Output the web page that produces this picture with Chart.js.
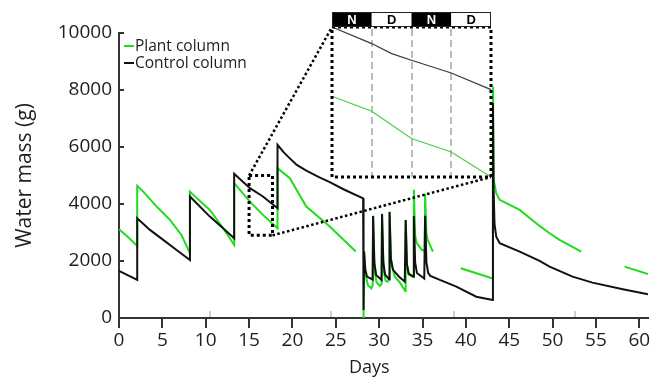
<!DOCTYPE html>
<html><head><meta charset="utf-8">
<script src="https://cdn.jsdelivr.net/npm/chart.js@4.4.0/dist/chart.umd.min.js"></script>
<style>
html,body{margin:0;padding:0;background:#fff;}
#wrap{position:relative;width:654px;height:381px;overflow:hidden;}
#main{position:absolute;left:0;top:0;}
#inset{position:absolute;left:326px;top:6px;}
</style></head><body>
<div id="wrap"><canvas id="main" width="654" height="381"></canvas><canvas id="inset" width="170" height="178"></canvas></div>
<script>
// ---- data (days, grams) ----
const plantDays = [0,1.0,2.1,2.1,2.8,4.34,5.88,7.2,8.18,
  8.18,8.56,10.48,12.02,13.28,
  13.28,15.1,16.6,18.28,
  18.28,19.7,21.6,24.3,27.3,
  27.5,
  28.2,28.26,28.4,28.7,29.1,29.25,
  29.3,29.45,29.7,30.07,30.28,
  30.33,30.5,30.75,31.0,31.15,
  31.2,31.35,31.8,32.4,33.0,
  33.06,33.2,33.4,33.95,
  34.0,34.15,34.3,34.9,35.25,
  35.3,35.45,35.6,36.2,
  37.0,
  39.4,43.0,43.1,43.12,43.2,43.5,43.9,46.2,48.5,49.65,50.8,53.3,
  55.0,
  58.3,61.0];
const plantMass = [3115,2850,2529,4636,4436,3910,3442,2915,2272,
  4436,4320,3793,3150,2564,
  4730,4085,3618,3150,
  5258,4907,3910,3208,2330,
  null,
  0,2330,1570,1150,1043,1150,
  3583,1700,1250,1124,1200,
  3653,1700,1300,1276,1350,
  3723,1950,1452,1241,950,
  3442,1850,1520,1430,
  4496,2900,2650,2400,2350,
  4355,2950,2740,2330,
  null,
  1745,1394,1394,8124,4850,4380,4145,3793,3231,2975,2740,2330,
  null,
  1803,1545];
const controlDays = [0,2.1,2.1,3.57,5.1,6.64,8.18,
  8.18,10.48,12.0,13.28,
  13.28,15.1,16.6,18.28,
  18.28,19.0,19.7,20.5,21.6,23.0,24.3,26.0,28.15,
  28.2,28.26,28.4,28.6,29.25,
  29.3,29.45,29.65,30.28,
  30.33,30.48,30.68,31.15,
  31.2,31.35,31.6,32.3,32.95,
  33.06,33.2,33.4,33.95,
  34.0,34.15,34.35,35.2,
  35.3,35.45,35.65,35.9,
  37.0,38.9,41.2,43.1,
  43.12,43.2,43.3,43.5,43.9,46.2,48.5,49.65,52.3,54.6,58.1,61.0];
const controlMass = [1651,1335,3502,3091,2740,2388,2037,
  4262,3558,3150,2800,
  5058,4555,4262,3853,
  6077,5810,5600,5370,5170,4950,4770,4500,4200,
  280,2330,1700,1450,1350,
  3583,1930,1510,1335,
  3653,1950,1520,1360,
  3723,2100,1690,1450,1276,
  3442,1900,1560,1452,
  3583,1950,1580,1382,
  3583,1950,1580,1480,
  1335,1100,748,632,
  7540,4500,3300,2856,2623,2330,2002,1803,1452,1241,1007,831];
const seriesLabels = ['Plant column','Control column'];
const greyTickDays = [10.5,24.5,38.6,52.6];
const zoomDays = [15,17.7];
const zoomMass = [2900,5000];
// inset (hours within the zoomed window)
const insetPhaseHours = [0,12,24,36,48];
const insetPhaseLabels = ['N','D','N','D'];
const insetControlHours = [0,12,18,24,36,48];
const insetControlMass = [5000,4768,4628,4534,4356,4124];
const insetPlantHours = [0,12,24,36,48];
const insetPlantMass = [4030,3820,3438,3250,2900];

const GREEN = '#1fdc1f';
const BLACK = '#111111';
const TXT = '#1e1e1e';
const FONT = '"Open Sans", sans-serif';
Chart.defaults.font.family = FONT;

const pts = (xs, ys) => xs.map((v,i)=>({x:v, y:ys[i]}));

const INSET_POS = {left:326, top:6, w:170, h:178, pad:{left:6, top:21, right:5, bottom:7}};

const mainDecor = {
  id:'mainDecor',
  afterDraw(chart){
    const {ctx, chartArea:a, scales:{x, y}} = chart;
    ctx.save();
    ctx.strokeStyle='#333'; ctx.lineWidth=2; ctx.setLineDash([]);
    x.ticks.forEach(t=>{const px=Math.round(x.getPixelForValue(t.value)); ctx.beginPath(); ctx.moveTo(px,a.bottom); ctx.lineTo(px,a.bottom+10); ctx.stroke();});
    y.ticks.forEach(t=>{const py=Math.round(y.getPixelForValue(t.value)); ctx.beginPath(); ctx.moveTo(a.left,py); ctx.lineTo(a.left+5,py); ctx.stroke();});
    ctx.strokeStyle='#bdbdbd'; ctx.lineWidth=1.5;
    greyTickDays.forEach(d=>{const px=Math.round(x.getPixelForValue(d)); ctx.beginPath(); ctx.moveTo(px,a.bottom-1); ctx.lineTo(px,a.bottom-7); ctx.stroke();});
    // zoom box
    const bx0=x.getPixelForValue(zoomDays[0]), bx1=x.getPixelForValue(zoomDays[1]);
    const by0=y.getPixelForValue(zoomMass[1]), by1=y.getPixelForValue(zoomMass[0]);
    ctx.strokeStyle='#000'; ctx.lineWidth=3; ctx.setLineDash([3,3]);
    ctx.strokeRect(bx0,by0,bx1-bx0,by1-by0);
    // connectors to inset
    const iL = INSET_POS.left+INSET_POS.pad.left, iT = INSET_POS.top+INSET_POS.pad.top;
    const iR = INSET_POS.left+INSET_POS.w-INSET_POS.pad.right, iB = INSET_POS.top+INSET_POS.h-INSET_POS.pad.bottom;
    ctx.lineWidth=2.5; ctx.setLineDash([2.5,2.5]);
    ctx.beginPath(); ctx.moveTo(bx0,by0); ctx.lineTo(iL,iT); ctx.stroke();
    ctx.beginPath(); ctx.moveTo(bx1,by1); ctx.lineTo(iR,iB); ctx.stroke();
    ctx.setLineDash([]);
    // legend
    ctx.font = '15.5px '+FONT; ctx.textBaseline='middle'; ctx.textAlign='left';
    chart.data.datasets.forEach((ds)=>{
      const row = seriesLabels.indexOf(ds.label);
      const ly = a.top + 13 + row*17;
      ctx.strokeStyle = ds.borderColor; ctx.lineWidth=2;
      ctx.beginPath(); ctx.moveTo(a.left+5, ly); ctx.lineTo(a.left+15, ly); ctx.stroke();
      ctx.fillStyle = TXT; ctx.fillText(ds.label, a.left+16, ly+1);
    });
    // x title
    ctx.font = '18px '+FONT; ctx.textAlign='center'; ctx.textBaseline='alphabetic'; ctx.fillStyle=TXT;
    ctx.fillText('Days', a.left + (a.right-a.left)*0.473, 373);
    ctx.restore();
  }
};

new Chart(document.getElementById('main'), {
  type:'line',
  data:{datasets:[
    {label:seriesLabels[1], data:pts(controlDays, controlMass), borderColor:BLACK, borderWidth:2, pointRadius:0, tension:0, order:0, spanGaps:false},
    {label:seriesLabels[0], data:pts(plantDays, plantMass), borderColor:GREEN, borderWidth:2, pointRadius:0, tension:0, order:1, spanGaps:false}
  ]},
  options:{
    responsive:false, animation:false, events:[],
    layout:{padding:{top:33,right:6,left:0,bottom:0}},
    plugins:{legend:{display:false}, tooltip:{enabled:false}},
    scales:{
      x:{type:'linear', min:0, max:61,
        grid:{display:false, drawTicks:false}, border:{display:true,color:'#333',width:2},
        ticks:{stepSize:5, includeBounds:false, color:TXT, font:{size:19}, padding:11, maxRotation:0, callback:v=>String(v)},
        afterFit(s){s.height=63; s.paddingLeft=0; s.paddingRight=0;}
      },
      y:{type:'linear', min:0, max:10000,
        grid:{display:false, drawTicks:false}, border:{display:true,color:'#333',width:2},
        ticks:{stepSize:2000, color:TXT, font:{size:19}, padding:7, callback:v=>String(v)},
        title:{display:true, text:'Water mass (g)', color:TXT, font:{size:21}, padding:{top:12,bottom:0}},
        afterFit(s){s.width=119; s.paddingTop=0; s.paddingBottom=0;}
      }
    }
  },
  plugins:[mainDecor]
});

const insetDecor = {
  id:'insetDecor',
  beforeDatasetsDraw(chart){
    const {ctx, chartArea:a, scales:{x}} = chart;
    ctx.save();
    ctx.fillStyle='#fff'; ctx.fillRect(a.left,a.top,a.right-a.left,a.bottom-a.top);
    ctx.strokeStyle='#a8a8a8'; ctx.lineWidth=1.5; ctx.setLineDash([7,4]);
    insetPhaseHours.slice(1,-1).forEach(h=>{const px=Math.round(x.getPixelForValue(h)); ctx.beginPath(); ctx.moveTo(px,a.top+2); ctx.lineTo(px,a.bottom); ctx.stroke();});
    ctx.restore();
  },
  afterDraw(chart){
    const {ctx, chartArea:a, scales:{x}} = chart;
    ctx.save();
    ctx.strokeStyle='#000'; ctx.lineWidth=3; ctx.setLineDash([3,3]);
    ctx.strokeRect(a.left,a.top,a.right-a.left,a.bottom-a.top);
    ctx.setLineDash([]);
    const hTop = a.top-15, hH = 14;
    ctx.font = 'bold 13px "Liberation Sans", Arial, sans-serif'; ctx.textAlign='center'; ctx.textBaseline='middle';
    insetPhaseLabels.forEach((lab,i)=>{
      const x0=x.getPixelForValue(insetPhaseHours[i]), x1=x.getPixelForValue(insetPhaseHours[i+1]);
      const night = lab==='N';
      ctx.fillStyle = night ? '#000' : '#fff';
      ctx.fillRect(x0,hTop,x1-x0,hH);
      ctx.fillStyle = night ? '#fff' : '#000';
      ctx.fillText(lab,(x0+x1)/2,hTop+hH/2+1);
    });
    ctx.strokeStyle='#222'; ctx.lineWidth=1;
    ctx.strokeRect(a.left+0.5,hTop+0.5,a.right-a.left-1,hH);
    ctx.restore();
  }
};

new Chart(document.getElementById('inset'), {
  type:'line',
  data:{datasets:[
    {label:seriesLabels[1], data:pts(insetControlHours, insetControlMass), borderColor:'#3a3a3a', borderWidth:1.2, pointRadius:0, tension:0, clip:false},
    {label:seriesLabels[0], data:pts(insetPlantHours, insetPlantMass), borderColor:'#45cf45', borderWidth:1.2, pointRadius:0, tension:0, clip:false}
  ]},
  options:{
    responsive:false, animation:false, events:[],
    layout:{padding:INSET_POS.pad},
    plugins:{legend:{display:false}, tooltip:{enabled:false}},
    scales:{
      x:{type:'linear', display:false, min:0, max:48},
      y:{type:'linear', display:false, min:2900, max:5000}
    }
  },
  plugins:[insetDecor]
});
</script>
</body></html>
